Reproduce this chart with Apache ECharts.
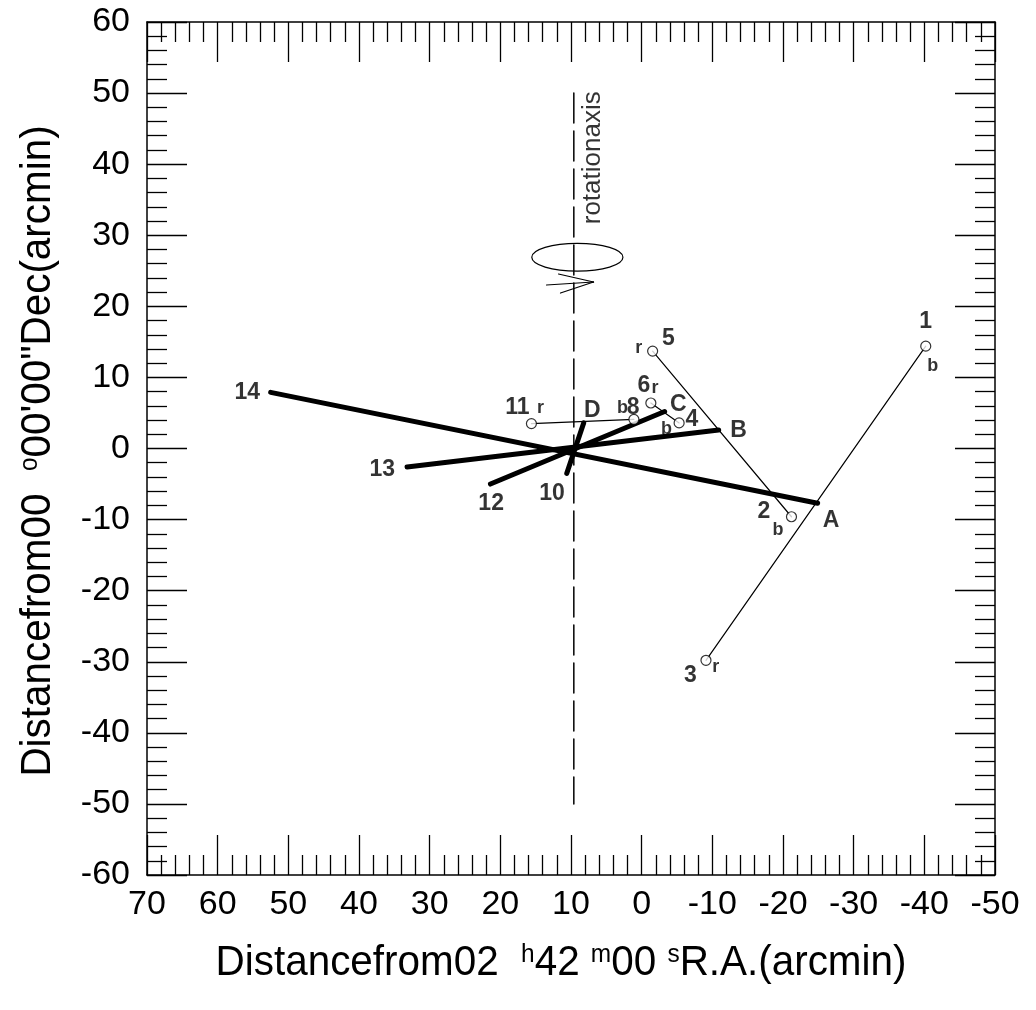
<!DOCTYPE html>
<html><head><meta charset="utf-8">
<script src="https://cdn.jsdelivr.net/npm/echarts@6/dist/echarts.min.js"></script>
<style>html,body{margin:0;padding:0;background:#fff}#c{width:1036px;height:1010px}</style>
</head><body><div id="c"></div>
<script>
// ---- data (arcmin) ----
const xRange = [-50, 70];
const yRange = [-60, 60];
// thin lines joining red (r) / blue (b) ends of each galaxy
const thin1to3 = [[-40.2, 14.4], [-9.1, -29.8]];
const thin5to2 = [[-1.55, 13.7], [-21.2, -9.6]];
const thin6to4 = [[-1.3, 6.4], [-5.3, 3.6]];
const thin11to8 = [[15.6, 3.5], [1.1, 4.1]];
const openPoints = [[-40.2, 14.4], [-9.1, -29.8], [-1.55, 13.7], [-21.2, -9.6],
                    [-1.3, 6.4], [-5.3, 3.6], [15.6, 3.5], [1.1, 4.1]];
// thick lines
const thick14A = [[52.5, 7.9], [-24.9, -7.7]];
const thick13B = [[33.2, -2.6], [-10.9, 2.6]];
const thick12C = [[21.4, -5.0], [-3.25, 5.2]];
const thick10D = [[10.6, -3.5], [8.2, 3.6]];
// rotation axis
const rotationAxis = [[9.6, 50], [9.6, -50]];
const ellipseCenter = [9.1, 26.9];
const ellipseRadii = [6.45, 1.96];
const arrowSeg1 = [[11.77, 24.55], [6.81, 23.42]];
const arrowSeg2 = [[13.47, 23.0], [6.81, 23.42]];
const arrowSeg3 = [[6.81, 23.42], [11.49, 21.87]];
// labels [x, y, text]
const bigLabels = [
  [-40.2, 17.8, '1'], [-17.3, -8.9, '2'], [-6.9, -32.0, '3'], [-7.1, 4.1, '4'],
  [-3.8, 15.5, '5'], [-0.3, 8.8, '6'], [1.2, 5.7, '8'], [12.7, -6.4, '10'],
  [17.6, 5.8, '11'], [21.3, -7.7, '12'], [36.7, -3.0, '13'], [55.8, 7.8, '14'],
  [-26.8, -10.2, 'A'], [-13.7, 2.5, 'B'], [-5.2, 6.2, 'C'], [7.0, 5.3, 'D']
];
const smallLabels = [
  [-41.2, 11.6, 'b'], [-19.3, -11.5, 'b'], [-10.5, -30.7, 'r'], [0.4, 14.1, 'r'],
  [-1.9, 8.5, 'r'], [-3.5, 2.8, 'b'], [2.7, 5.7, 'b'], [14.3, 5.7, 'r']
];
const axisNoteLabel = [[6.95, 40.9, 'rotationaxis']];

const FONT = "'Liberation Sans', Arial, sans-serif";

function axisBase(pos, range, showLabel, inverse) {
  return {
    type: 'value', position: pos, min: range[0], max: range[1], interval: 10,
    inverse: !!inverse,
    axisLine: {show: true, onZero: false, lineStyle: {color: '#000', width: 1.5}},
    axisTick: {show: true, inside: true, length: 40, lineStyle: {color: '#000', width: 1.3}},
    minorTick: {show: true, splitNumber: 5, length: 20, lineStyle: {color: '#000', width: 1.3}},
    splitLine: {show: false}, minorSplitLine: {show: false},
    axisLabel: {show: showLabel, color: '#000', fontSize: 34, fontFamily: FONT,
      margin: pos === 'bottom' ? 13 : 17}
  };
}

function lineSeries(data, width, dash) {
  return {type: 'line', data: data, showSymbol: false, symbol: 'none', silent: true,
    lineStyle: {color: '#000', width: width, type: dash || 'solid', cap: 'round'},
    z: 3, animation: false};
}

const chart = echarts.init(document.getElementById('c'), null, {renderer: 'canvas'});
chart.setOption({
  animation: false,
  backgroundColor: '#fff',
  grid: {left: 147, right: 41, top: 22, bottom: 135, containLabel: false},
  xAxis: [axisBase('bottom', xRange, true, true), axisBase('top', xRange, false, true)],
  yAxis: [axisBase('left', yRange, true), axisBase('right', yRange, false)],
  series: [
    lineSeries(rotationAxis, 1.5, [30, 8]),
    lineSeries(arrowSeg1, 1.2), lineSeries(arrowSeg2, 1.2), lineSeries(arrowSeg3, 1.2),
    {
      type: 'custom', silent: true, z: 3,
      data: [[ellipseCenter[0], ellipseCenter[1], ellipseRadii[0], ellipseRadii[1]]],
      encode: {x: 0, y: 1},
      renderItem: function (params, api) {
        const c = api.coord([api.value(0), api.value(1)]);
        const ex = api.coord([api.value(0) - api.value(2), api.value(1)]);
        const ey = api.coord([api.value(0), api.value(1) + api.value(3)]);
        const rx = Math.abs(ex[0] - c[0]), ry = Math.abs(ey[1] - c[1]);
        return {type: 'path', shape: {
            pathData: 'M ' + (c[0] - rx) + ' ' + c[1] + ' A ' + rx + ' ' + ry + ' 0 1 0 ' + (c[0] + rx) + ' ' + c[1] +
                      ' A ' + rx + ' ' + ry + ' 0 1 0 ' + (c[0] - rx) + ' ' + c[1] + ' Z'},
          style: {fill: 'none', stroke: '#000', lineWidth: 1.2}};
      }
    },
    lineSeries(thin1to3, 1.2), lineSeries(thin5to2, 1.2),
    lineSeries(thin6to4, 1.2), lineSeries(thin11to8, 1.2),
    lineSeries(thick14A, 5), lineSeries(thick13B, 5),
    lineSeries(thick12C, 5), lineSeries(thick10D, 5),
    {type: 'scatter', data: openPoints, symbol: 'circle', symbolSize: 10, z: 5, silent: true,
      itemStyle: {color: '#fff', borderColor: '#000', borderWidth: 1.2}},
    {type: 'scatter', data: bigLabels, symbolSize: 0, z: 6, silent: true,
      label: {show: true, position: 'inside', formatter: p => p.value[2],
        color: '#000', fontSize: 23, fontWeight: 'bold', fontFamily: FONT}},
    {type: 'scatter', data: smallLabels, symbolSize: 0, z: 6, silent: true,
      label: {show: true, position: 'inside', formatter: p => p.value[2],
        color: '#000', fontSize: 18, fontWeight: 'bold', fontFamily: FONT}},
    {type: 'scatter', data: axisNoteLabel, symbolSize: 0, z: 6, silent: true,
      label: {show: true, position: 'inside', rotate: 90, formatter: p => p.value[2],
        color: '#000', fontSize: 26, fontFamily: FONT}}
  ],
  graphic: [
    {type: 'text', x: 561, y: 963, scaleX: 0.94, z: 10,
      style: {text: '{a|Distancefrom02  }{s|h}{a|42 }{s|m}{a|00 }{s|s}{a|R.A.(arcmin)}',
        textAlign: 'center', textVerticalAlign: 'middle', fill: '#000',
        rich: {a: {fontSize: 43, fontFamily: FONT, color: '#000', verticalAlign: 'bottom'},
               s: {fontSize: 26, fontFamily: FONT, color: '#000', verticalAlign: 'top'}}}},
    {type: 'text', x: 38, y: 451, rotation: Math.PI / 2, scaleX: 0.94, z: 10,
      style: {text: '{a|Distancefrom00  }{s|o}{a|00\'00"Dec(arcmin)}',
        textAlign: 'center', textVerticalAlign: 'middle', fill: '#000',
        rich: {a: {fontSize: 43, fontFamily: FONT, color: '#000', verticalAlign: 'bottom'},
               s: {fontSize: 26, fontFamily: FONT, color: '#000', verticalAlign: 'top'}}}}
  ]
});
</script></body></html>
